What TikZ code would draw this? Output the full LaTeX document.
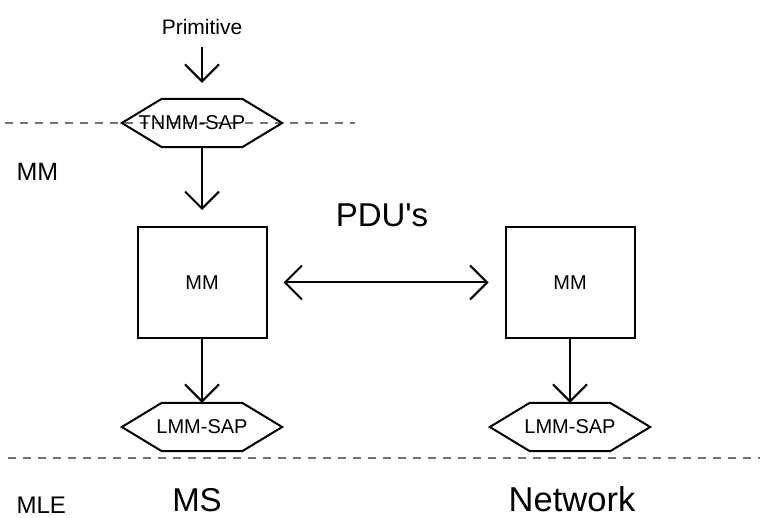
\documentclass[tikz,border=0pt]{standalone}
\usepackage{fontspec}
\setmainfont{Liberation Sans}
\usetikzlibrary{arrows.meta, positioning}

\begin{document}
\begin{tikzpicture}[
    x=1pt, y=-1pt,
    every node/.style={font=\fontsize{20}{24}\selectfont},
    mmbox/.style={draw, line width=2pt, minimum width=129pt, minimum height=111pt},
    sap/.style={minimum width=160pt, minimum height=48pt, inner sep=0pt,
        append after command={\pgfextra{\let\sapnode=\tikzlastnode
            \draw[line width=2pt]
            (\sapnode.west) -- ([xshift=40pt]\sapnode.north west)
            -- ([xshift=-40pt]\sapnode.north east) -- (\sapnode.east)
            -- ([xshift=-40pt]\sapnode.south east)
            -- ([xshift=40pt]\sapnode.south west) -- cycle;}}},
    arr/.style={-{Straight Barb[length=17pt, width=34pt]}, line width=2pt},
    darr/.style={{Straight Barb[length=17pt, width=34pt]}-{Straight Barb[length=17pt, width=34pt]}, line width=2pt},
    sepline/.style={black!55, line width=1.3pt, dash pattern=on 8pt off 7pt},
    big/.style={font=\fontsize{33}{40}\selectfont}
]
\useasboundingbox (0,0) rectangle (760,518);

% Layer separators
\draw[sepline] (5,123) -- (355,123);
\draw[sepline] (8,458) -- (760,458);

% Service access points and entities
\node[sap] (tnmm) at (202,123) {\hspace*{-20pt}TNMM-SAP};
\node[anchor=base, font=\fontsize{21}{25}\selectfont] (prim) at (202,35) {Primitive};
\node[mmbox] (msmm) at (202,282.5) {MM};
\node[mmbox] (netmm) at (570,282.5) {MM};
\node[sap] (mslmm) at (202,427) {LMM-SAP};
\node[sap] (netlmm) at (570,427) {LMM-SAP};

% Labels
\node[anchor=base, big] (pdu) at (382,227) {PDU\textquotesingle s};
\node[anchor=base west, font=\fontsize{25}{30}\selectfont] (mmlayer) at (13,181) {MM};
\node[anchor=base west, font=\fontsize{24}{29}\selectfont] (mle) at (13,513) {MLE};
\node[anchor=base, big] (ms) at (197,511) {MS};
\node[anchor=base, font=\fontsize{34.5}{41}\selectfont] (net) at (572,511) {Network};

% Arrows
\draw[arr, shorten <=8pt, shorten >=16pt] (prim.south) -- (tnmm.north);
\draw[arr, shorten >=16pt] (tnmm.south) -- (msmm.north);
\draw[arr] (msmm.south) -- (mslmm.north);
\draw[arr] (netmm.south) -- (netlmm.north);
\draw[darr, shorten <=16pt, shorten >=16pt] (msmm.east) -- (netmm.west);

\end{tikzpicture}
\end{document}
